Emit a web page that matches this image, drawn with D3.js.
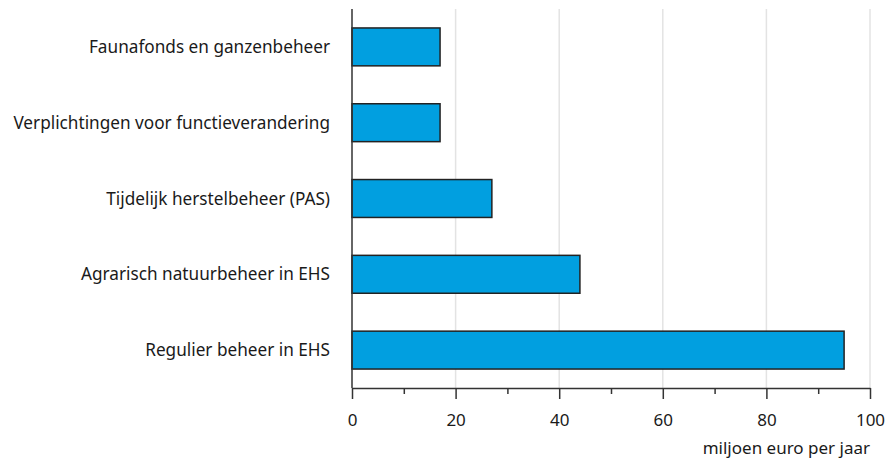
<!DOCTYPE html>
<html>
<head>
<meta charset="utf-8">
<script src="https://cdn.jsdelivr.net/npm/d3@7"></script>
<style>
	body { margin: 0; background: #fff; }
	svg text { font-family: "Noto Sans", sans-serif; fill: #1a1a1a; }
</style>
</head>
<body>
<svg id="chart" width="886" height="462"></svg>
<script>
// categories, top to bottom
var categories = [
	"Faunafonds en ganzenbeheer",
	"Verplichtingen voor functieverandering",
	"Tijdelijk herstelbeheer (PAS)",
	"Agrarisch natuurbeheer in EHS",
	"Regulier beheer in EHS"
];
var values = [17, 17, 27, 44, 95];
var majorTicks = [0, 20, 40, 60, 80, 100];
var minorTicks = [10, 30, 50, 70, 90];
var axisTitle = "miljoen euro per jaar";

var svg = d3.select("#chart"),
	margin = {top: 9, right: 16, bottom: 74, left: 352},
	width = +svg.attr("width") - margin.left - margin.right,
	height = +svg.attr("height") - margin.top - margin.bottom;

var x = d3.scaleLinear()
	.domain([0, 100])
	.range([0, width]);

var y = d3.scaleBand()
	.domain(categories)
	.range([0, height])
	.paddingInner(0.5)
	.paddingOuter(0.25);

var g = svg.append("g").attr("transform", "translate(" + margin.left + "," + margin.top + ")");

// gridlines
g.append("g")
	.attr("class", "grid")
	.selectAll("line")
	.data(majorTicks.filter(function(d) { return d > 0; }))
	.enter().append("line")
	.attr("x1", function(d) { return x(d); })
	.attr("x2", function(d) { return x(d); })
	.attr("y1", 0)
	.attr("y2", height)
	.attr("stroke", "#e3e3e3")
	.attr("stroke-width", 1.5);

// bars
g.append("g")
	.selectAll("rect")
	.data(values)
	.enter().append("rect")
	.attr("x", x(0))
	.attr("y", function(d, i) { return y(categories[i]); })
	.attr("width", function(d) { return x(d) - x(0); })
	.attr("height", y.bandwidth())
	.attr("fill", "#019fe0")
	.attr("stroke", "#222")
	.attr("stroke-width", 1.5);

// minor ticks
var xMinor = d3.axisBottom(x)
	.tickValues(minorTicks)
	.tickSize(6)
	.tickFormat("");
g.append("g")
	.attr("transform", "translate(0," + height + ")")
	.call(xMinor)
	.call(function(s) { s.select(".domain").remove(); })
	.selectAll("line").attr("stroke", "#333").attr("stroke-width", 1.5);

// major axis
var xAxis = d3.axisBottom(x)
	.tickValues(majorTicks)
	.tickSize(11)
	.tickSizeOuter(0)
	.tickPadding(15);
var gX = g.append("g")
	.attr("transform", "translate(0," + height + ")")
	.call(xAxis);
gX.select(".domain").attr("stroke", "#333").attr("stroke-width", 1.5);
gX.selectAll("line").attr("stroke", "#333").attr("stroke-width", 1.5);
gX.selectAll("text")
	.style("font-size", "17px")
	.attr("fill", "#1a1a1a");

// y axis line
g.append("line")
	.attr("x1", 0).attr("x2", 0)
	.attr("y1", 0).attr("y2", height)
	.attr("stroke", "#333")
	.attr("stroke-width", 1.5);

// category labels
g.append("g")
	.selectAll("text")
	.data(categories)
	.enter().append("text")
	.attr("x", -22)
	.attr("y", function(d) { return y(d) + y.bandwidth() / 2; })
	.attr("dy", "0.35em")
	.attr("text-anchor", "end")
	.style("font-size", "17.2px")
	.text(function(d) { return d; });

// axis title
g.append("text")
	.attr("x", width)
	.attr("y", height + 66)
	.attr("text-anchor", "end")
	.style("font-size", "17px")
	.text(axisTitle);
</script>
</body>
</html>
